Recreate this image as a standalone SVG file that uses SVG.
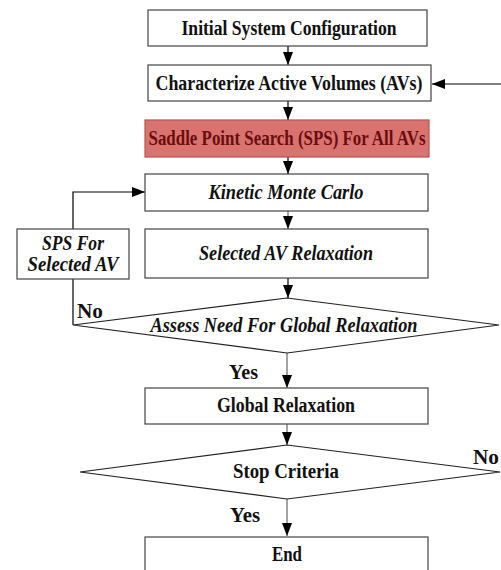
<svg xmlns="http://www.w3.org/2000/svg" width="501" height="570" viewBox="0 0 501 570" font-family="Liberation Serif, Times New Roman, serif">
<defs>
<marker id="ah" markerWidth="14" markerHeight="11" refX="13" refY="5" orient="auto" markerUnits="userSpaceOnUse">
<path d="M0,0 L13,5 L0,10 Z" fill="#000"/>
</marker>
<style>
.box{fill:#fff;stroke:#444;stroke-width:1.2}
.red{fill:#d9736f;stroke:#b85450;stroke-width:1.2}
.dia{fill:#fff;stroke:#222;stroke-width:1.2}
.t{font-size:20px;font-weight:bold;fill:#111;text-anchor:middle}
.i{font-style:italic}
.rt{fill:#6b0d0d}
.lbl{font-size:20px;font-weight:bold;fill:#111}
.c{fill:none;stroke:#000;stroke-width:1.2}
.cg{fill:none;stroke:#666;stroke-width:1.2}
</style>
</defs>
<g id="connectors">
<line class="c" x1="288" y1="46" x2="288" y2="65" marker-end="url(#ah)"/>
<line class="c" x1="501" y1="84" x2="432" y2="84" marker-end="url(#ah)"/>
<line class="c" x1="288" y1="101" x2="288" y2="120" marker-end="url(#ah)"/>
<line class="c" x1="288" y1="157" x2="288" y2="174" marker-end="url(#ah)"/>
<line class="cg" x1="288" y1="211" x2="288" y2="229" marker-end="url(#ah)"/>
<line class="c" x1="288" y1="278" x2="288" y2="298" marker-end="url(#ah)"/>
<polyline class="c" points="73,325 73,279"/>
<polyline class="c" points="73,229 73,192 145,192" marker-end="url(#ah)"/>
<line class="cg" x1="287" y1="353" x2="287" y2="388" marker-end="url(#ah)"/>
<line class="cg" x1="287" y1="424" x2="287" y2="445" marker-end="url(#ah)"/>
<line class="cg" x1="287" y1="499" x2="287" y2="536" marker-end="url(#ah)"/>
</g>
<g id="n1"><rect class="box" x="148" y="10" width="279" height="36"/><text class="t" x="289" y="35" textLength="215" lengthAdjust="spacingAndGlyphs">Initial System Configuration</text></g>
<g id="n2"><rect class="box" x="148" y="65" width="283" height="36"/><text class="t" x="289" y="90" textLength="267" lengthAdjust="spacingAndGlyphs">Characterize Active Volumes (AVs)</text></g>
<g id="n3"><rect class="red" x="145" y="120" width="284" height="37"/><text class="t rt" x="287" y="145" textLength="277" lengthAdjust="spacingAndGlyphs">Saddle Point Search (SPS) For All AVs</text></g>
<g id="n4"><rect class="box" x="145" y="174" width="283" height="37"/><text class="t i" x="286" y="199" textLength="155" lengthAdjust="spacingAndGlyphs">Kinetic Monte Carlo</text></g>
<g id="n5"><rect class="box" x="145" y="229" width="283" height="49"/><text class="t i" x="286" y="260" textLength="174" lengthAdjust="spacingAndGlyphs">Selected AV Relaxation</text></g>
<g id="n6"><rect class="box" x="17" y="229" width="112" height="50"/><text class="t i" x="73" y="250" textLength="62" lengthAdjust="spacingAndGlyphs">SPS For</text><text class="t i" x="73" y="271" textLength="91" lengthAdjust="spacingAndGlyphs">Selected AV</text></g>
<g id="n7"><polygon class="dia" points="287,298 499,325 287,353 73,325"/><text class="t i" x="284" y="332" textLength="267" lengthAdjust="spacingAndGlyphs">Assess Need For Global Relaxation</text></g>
<g id="n8"><rect class="box" x="145" y="388" width="283" height="36"/><text class="t" x="286" y="412" textLength="138" lengthAdjust="spacingAndGlyphs">Global Relaxation</text></g>
<g id="n9"><polygon class="dia" points="287,445 500,472 287,499 80,472"/><text class="t" x="286" y="478" textLength="106" lengthAdjust="spacingAndGlyphs">Stop Criteria</text></g>
<g id="n10"><rect class="box" x="145" y="537" width="283" height="40"/><text class="t" x="287" y="561" textLength="30" lengthAdjust="spacingAndGlyphs">End</text></g>
<text class="lbl" x="77" y="318" textLength="26" lengthAdjust="spacingAndGlyphs">No</text>
<text class="lbl" x="229" y="379" textLength="29" lengthAdjust="spacingAndGlyphs">Yes</text>
<text class="lbl" x="473" y="464" textLength="26" lengthAdjust="spacingAndGlyphs">No</text>
<text class="lbl" x="230" y="522" textLength="30" lengthAdjust="spacingAndGlyphs">Yes</text>
</svg>
